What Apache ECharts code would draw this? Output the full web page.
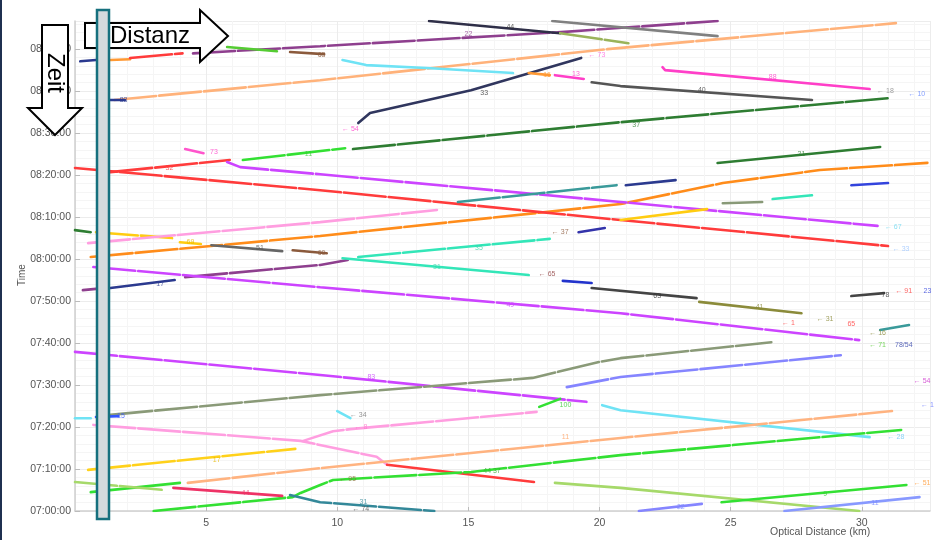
<!DOCTYPE html>
<html>
<head>
<meta charset="utf-8">
<script src="https://cdn.jsdelivr.net/npm/echarts@6/dist/echarts.min.js"></script>
<style>
  html, body { margin: 0; padding: 0; background: #fff; }
  #chart { width: 939px; height: 540px; }
</style>
</head>
<body>
<div id="chart"></div>
<script>
// Train paths on the optical fibre: [distance km, minutes after 07:00]
const navyTopA = [[0.2,107.1],[0.8,107.4]];
const orangeTopA = [[1.35,107.4],[2.1,107.6]];
const redTopA = [[2.1,107.9],[4.1,109.0]];
const purpleTop = [[4.5,109.0],[9.35,110.7],[18.4,114.0],[24.5,116.7]];
const greenTop = [[5.8,110.5],[7.7,109.5]];
const brownTop = [[8.2,109.3],[9.5,108.8]];
const darkTop = [[13.5,116.7],[18.5,113.8]];
const grayTop = [[18.2,116.7],[24.5,113.1]];
const oliveTop = [[18.5,113.8],[21.1,111.4]];
const peachHigh = [[1.5,97.9],[9.35,102.6],[20.3,110.0],[31.3,116.2]];
const navyShortB = [[1.2,97.9],[1.9,97.9]];
const cyanHigh = [[10.2,107.4],[11.1,106.2],[13.4,105.5],[16.7,104.3]];
const navyClimb = [[10.8,92.4],[11.25,94.8],[15.1,100.2],[19.3,107.9]];
const orangeBit = [[17.3,104.3],[18.1,103.8]];
const magentaBit = [[18.3,103.8],[19.4,102.9]];
const grayDescent = [[19.7,102.1],[20.8,101.2],[28.1,97.9]];
const magentaRun = [[22.4,105.7],[22.5,105.0],[30.3,100.5]];
const greenLink = [[6.4,83.6],[10.3,86.4]];
const forestLong = [[10.6,86.2],[20.8,92.6],[31.0,98.3]];
const forestShort = [[24.5,82.9],[30.7,86.7]];
const pinkBit = [[4.2,86.2],[4.9,85.2]];
const orangeLong = [[0.6,60.5],[9.35,65.5],[20.8,73.1],[24.7,78.1],[28.4,81.2],[32.5,82.9]];
const redLong = [[0.0,81.7],[9.35,76.4],[20.8,69.3],[31.0,63.1]];
const redRise = [[1.35,80.7],[5.9,83.6]];
const violetHigh = [[5.8,83.1],[6.3,81.9],[9.35,80.2],[20.8,73.6],[30.6,67.9]];
const tealDash = [[14.6,73.6],[20.65,77.6]];
const navyBitC = [[21.0,77.6],[22.9,78.8]];
const blueBitC = [[29.6,77.6],[31.0,78.1]];
const sageBitC = [[24.7,73.3],[26.2,73.6]];
const aquaBitC = [[26.6,74.3],[28.1,75.2]];
const goldRight = [[20.8,69.3],[24.1,71.9]];
const goldLeft = [[0.8,66.4],[3.7,65.0]];
const goldBit = [[4.0,64.0],[4.8,63.6]];
const pinkHigh = [[0.5,63.8],[9.35,68.8],[13.8,71.7]];
const forestBit = [[0.0,66.9],[0.6,66.4]];
const graySeg = [[5.2,63.3],[7.9,61.9]];
const brownSeg = [[8.3,62.1],[9.6,61.4]];
const plumRise = [[4.2,55.7],[9.35,58.6],[10.4,59.8]];
const plumBit = [[0.3,52.6],[0.8,52.9]];
const navyRise = [[1.35,53.1],[3.8,55.0]];
const violetMid = [[0.7,58.1],[9.35,53.3],[20.8,47.1],[29.9,40.7]];
const aquaRise = [[10.8,60.5],[18.1,64.8]];
const aquaFall = [[10.2,60.2],[17.3,56.2]];
const navyBitD = [[19.2,66.4],[20.2,67.4]];
const blueBitD = [[18.6,54.8],[19.7,54.3]];
const charcoalSeg = [[19.7,53.1],[23.7,50.7]];
const oliveSeg = [[23.8,49.8],[27.7,47.1]];
const charcoalBit = [[29.6,51.2],[30.85,51.9]];
const tealBit = [[30.7,43.1],[31.8,44.3]];
const violetLow = [[0.0,37.9],[9.35,32.4],[19.5,26.0]];
const sageLong = [[1.35,22.9],[9.35,27.6],[17.45,31.7],[20.0,35.5],[20.8,36.4],[26.55,40.2]];
const cyanBitL = [[0.0,22.1],[0.6,22.1]];
const blueBitL = [[0.8,22.4],[1.65,22.6]];
const periwinkleMid = [[18.75,29.5],[20.8,31.9],[29.2,37.1]];
const limeBit = [[17.7,24.8],[18.5,26.7]];
const cyanLow = [[20.1,25.2],[20.8,24.0],[30.3,17.6]];
const cyanBitM = [[10.0,23.8],[10.5,22.1]];
const pinkFall = [[0.7,20.5],[8.6,16.7],[11.5,12.9],[11.9,11.0]];
const pinkBranch = [[8.7,16.7],[9.84,19.0],[10.5,19.5],[17.6,23.6]];
const redLow = [[11.9,11.0],[17.5,6.9]];
const peachLow = [[4.3,6.7],[9.35,10.2],[20.8,17.4],[31.15,23.8]];
const goldLow = [[0.5,9.8],[8.4,14.8]];
const limeLong = [[3.0,0.0],[8.3,3.3],[8.6,4.3],[9.35,6.2],[9.84,7.4],[15.1,9.3],[20.8,13.3],[31.5,19.3]];
const limeLeft = [[0.6,4.5],[4.0,6.7]];
const yellowGreenLeft = [[0.0,6.9],[3.4,5.0]];
const yellowGreenRight = [[18.3,6.7],[20.8,5.5],[29.9,0.0]];
const crimsonLow = [[3.75,5.5],[7.9,3.6]];
const tealLow = [[8.2,3.8],[9.35,2.1],[13.7,0.0]];
const limeRight = [[24.65,2.1],[31.7,6.2]];
const periwinkleLowA = [[21.5,0.0],[23.9,1.7]];
const periwinkleLowB = [[27.05,0.0],[32.2,3.3]];

// Train number tags: [distance km, minutes after 07:00, text]
const tags = [
  [16.6,115.2,'44'],[15.0,113.6,'22'],[15.6,99.6,'33'],[10.5,91.0,'← 54'],
  [23.9,100.2,'40'],[26.6,103.3,'88'],[30.9,100.0,'← 18'],[32.1,99.4,'← 10'],
  [21.4,92.0,'37'],[27.7,84.9,'21'],[8.9,84.9,'11'],[5.3,85.4,'73'],
  [31.2,67.6,'← 67'],[31.5,62.4,'← 33'],[18.5,66.5,'← 37'],[18.0,56.4,'← 65'],
  [16.6,49.0,'49'],[15.4,62.6,'35'],[13.8,58.2,'31'],[22.2,51.3,'63'],
  [26.1,48.5,'41'],[30.9,51.5,'78'],[31.6,52.5,'← 91'],[32.5,52.3,'23'],
  [27.2,44.7,'← 1'],[28.6,45.8,'← 31'],[29.6,44.5,'65'],[30.6,42.4,'← 16'],
  [30.6,39.6,'← 71'],[31.6,39.6,'78/54'],[11.3,31.8,'83'],[18.7,25.3,'100'],
  [32.3,31.0,'← 54'],[32.5,25.2,'← 1'],[31.3,17.6,'← 28'],[10.8,22.8,'← 34'],
  [10.9,20.0,'← 8'],[18.7,17.6,'11'],[10.4,7.6,'← 95'],[15.9,9.5,'44 37'],
  [10.9,0.4,'← 74'],[11.0,2.2,'31'],[28.6,4.0,'9'],[30.5,1.8,'11'],
  [23.1,1.0,'22'],[32.3,6.7,'← 51'],[5.4,12.1,'17'],[6.5,4.2,'44'],
  [1.75,22.5,'15'],[3.25,54.1,'17'],[7.05,62.6,'51'],[9.4,61.4,'60'],
  [9.4,108.7,'63'],[3.6,81.7,'32'],[18.0,103.8,'16'],[19.9,108.6,'← 73'],
  [1.85,97.9,'83'],[19.1,104.1,'13'],[4.4,64.0,'69']
];
const tagColors = [
  '#333','#8e3f8e','#333','#ff3fc8','#444','#ff3fc8','#888','#6688ff',
  '#2e7d32','#2e7d32','#33cc33','#ff3fc8','#6fd8f0','#9bc4ff','#8b5a3c','#8b3a3a',
  '#cc44ff','#33d6a8','#33d6a8','#333','#8b8b3a','#333','#ff3b3b','#3344dd',
  '#ff3b3b','#8b8b3a','#ff3b3b','#8b8b3a','#55cc33','#3344aa','#cc44ff','#33cc33',
  '#cc33cc','#6677ff','#6fc8f5','#777','#ff77cc','#ffa060','#8b6a3a','#33aa33',
  '#555','#338899','#33cc33','#7788ff','#7788ff','#ff9933','#e6b800','#ee3366',
  '#3355ff','#2b3a8f','#555','#8b5a3c','#8b5a3c','#ff3b3b','#ff9933','#ff66dd',
  '#2b3a8f','#ff3fc8','#e6b800'
];

// [path, colour, dashed]
const tracks = [
  [navyTopA,'#2b3a8f',0],[orangeTopA,'#ff9933',0],[redTopA,'#ff3b3b',1],[purpleTop,'#8e3f8e',1],
  [greenTop,'#55cc33',0],[brownTop,'#8b5a3c',0],[darkTop,'#2f2f48',0],[grayTop,'#808080',0],
  [oliveTop,'#9ab35a',1],[peachHigh,'#ffb27a',1],[navyShortB,'#2b3a8f',0],[cyanHigh,'#6fe3f5',0],
  [navyClimb,'#30365e',0],[orangeBit,'#ff9933',0],[magentaBit,'#ff3fc8',0],[grayDescent,'#555555',0],
  [magentaRun,'#ff3fc8',0],[greenLink,'#33e033',1],[forestLong,'#2e7d32',1],[forestShort,'#2e7d32',0],
  [pinkBit,'#ff55cc',0],[orangeLong,'#ff8c1a',1],[redLong,'#ff3b3b',1],[redRise,'#ff3b3b',1],
  [violetHigh,'#cc44ff',1],[tealDash,'#3a9a9a',1],[navyBitC,'#2b3a8f',0],[blueBitC,'#3344dd',0],
  [sageBitC,'#889977',0],[aquaBitC,'#33e6b8',0],[goldRight,'#ffcc11',0],[goldLeft,'#ffcc11',1],
  [goldBit,'#ffcc11',0],[pinkHigh,'#ff9ee0',1],[forestBit,'#2e7d32',0],[graySeg,'#666666',0],
  [brownSeg,'#8b5a3c',0],[plumRise,'#8e3f8e',1],[plumBit,'#8e3f8e',0],[navyRise,'#2b3a8f',0],
  [violetMid,'#cc44ff',1],[aquaRise,'#33e6b8',1],[aquaFall,'#33e6b8',0],[navyBitD,'#3333aa',0],
  [blueBitD,'#2233cc',0],[charcoalSeg,'#444444',0],[oliveSeg,'#8b8b3a',0],[charcoalBit,'#444444',0],
  [tealBit,'#3a9a9a',0],[violetLow,'#cc44ff',1],[sageLong,'#8a9a78',1],[cyanBitL,'#6fe3f5',1],
  [blueBitL,'#3355ff',0],[periwinkleMid,'#8585ff',1],[limeBit,'#33e033',0],[cyanLow,'#6fe3f5',0],
  [cyanBitM,'#6fe3f5',0],[pinkFall,'#ff9ee0',1],[pinkBranch,'#ff9ee0',1],[redLow,'#ff3b3b',0],
  [peachLow,'#ffb380',1],[goldLow,'#ffd11a',1],[limeLong,'#33e033',1],[limeLeft,'#33e033',0],
  [yellowGreenLeft,'#a6d96a',1],[yellowGreenRight,'#a6d96a',0],[crimsonLow,'#ee3366',0],[tealLow,'#338899',1],
  [limeRight,'#33e033',0],[periwinkleLowA,'#8585ff',0],[periwinkleLowB,'#8899ff',0]
];

const pad = n => String(n).padStart(2, '0');
const clock = v => {
  const total = Math.round(v);
  return pad(7 + Math.floor(total / 60)) + ':' + pad(total % 60) + ':00';
};

const series = tracks.map(([data, color, dashed]) => ({
  type: 'line',
  data: data,
  symbol: 'none',
  silent: true,
  clip: true,
  lineStyle: { color: color, width: 2.6, type: dashed ? [42, 3] : 'solid', cap: 'round' },
  z: 2
}));

series.push({
  type: 'scatter',
  symbolSize: 0,
  silent: true,
  z: 3,
  data: tags.map((t, i) => ({
    value: [t[0], t[1]],
    label: {
      show: true, position: 'inside', formatter: t[2],
      color: tagColors[i], fontSize: 7, fontFamily: 'Liberation Sans'
    }
  }))
});

const chart = echarts.init(document.getElementById('chart'), null, { renderer: 'canvas' });
chart.setOption({
  animation: false,
  backgroundColor: '#ffffff',
  textStyle: { fontFamily: 'Liberation Sans' },
  grid: { left: 75, right: 9, top: 21, bottom: 29, containLabel: false, outerBoundsMode: 'none' },
  xAxis: {
    type: 'value', min: 0, max: 32.6, interval: 5,
    axisLine: { show: true, lineStyle: { color: '#cfcfcf', width: 1.5 } },
    axisTick: { show: true, inside: true, length: 4, lineStyle: { color: '#bbbbbb' } },
    axisLabel: { color: '#555', fontSize: 10.5, margin: 7, showMinLabel: false, showMaxLabel: false },
    splitLine: { show: true, lineStyle: { color: '#ececec', width: 1 } },
    minorTick: { show: false, splitNumber: 5 },
    minorSplitLine: { show: true, lineStyle: { color: '#f5f5f5', width: 1 } }
  },
  yAxis: {
    type: 'value', min: 0, max: 116.7, interval: 10,
    axisLine: { show: true, lineStyle: { color: '#cfcfcf', width: 1.5 } },
    axisTick: { show: true, inside: true, length: 5, lineStyle: { color: '#bbbbbb' } },
    axisLabel: { color: '#555', fontSize: 10.5, margin: 4, formatter: clock, showMaxLabel: false },
    splitLine: { show: true, lineStyle: { color: '#ececec', width: 1 } },
    minorTick: { show: false, splitNumber: 5 },
    minorSplitLine: { show: true, lineStyle: { color: '#f5f5f5', width: 1 } }
  },
  series: series,
  graphic: [
    { type: 'rect', left: 0, top: 0, shape: { width: 2, height: 540 }, style: { fill: '#1f3050' }, z: 100 },
    { type: 'text', left: 770, top: 527, style: { text: 'Optical Distance (km)', fill: '#555', fontSize: 10.5, fontFamily: 'Liberation Sans' }, z: 100 },
    { type: 'text', x: 22, y: 275, rotation: Math.PI / 2, style: { text: 'Time', fill: '#555', fontSize: 10, fontFamily: 'Liberation Sans', align: 'center', verticalAlign: 'middle' }, z: 100 },
    // "Distanz" arrow pointing right
    { type: 'polygon', shape: { points: [[85,23],[200,23],[200,10],[228,36],[200,62],[200,48],[85,48]] },
      style: { fill: '#ffffff', stroke: '#000000', lineWidth: 2 }, z: 110 },
    { type: 'text', x: 150, y: 36, style: { text: 'Distanz', fill: '#000', fontSize: 24, fontFamily: 'Liberation Sans', align: 'center', verticalAlign: 'middle' }, z: 112 },
    // "Zeit" arrow pointing down
    { type: 'polygon', shape: { points: [[42,25],[68,25],[68,108],[82,108],[55,135],[28,108],[42,108]] },
      style: { fill: '#ffffff', stroke: '#000000', lineWidth: 2 }, z: 110 },
    { type: 'text', x: 55, y: 73, rotation: -Math.PI / 2, style: { text: 'Zeit', fill: '#000', fontSize: 24, fontFamily: 'Liberation Sans', align: 'center', verticalAlign: 'middle' }, z: 112 },
    // vertical cursor bar
    { type: 'rect', shape: { x: 97, y: 10, width: 12, height: 509 },
      style: { fill: '#d4dadd', stroke: '#16707e', lineWidth: 2.5 }, z: 115 }
  ]
});
</script>
</body>
</html>
